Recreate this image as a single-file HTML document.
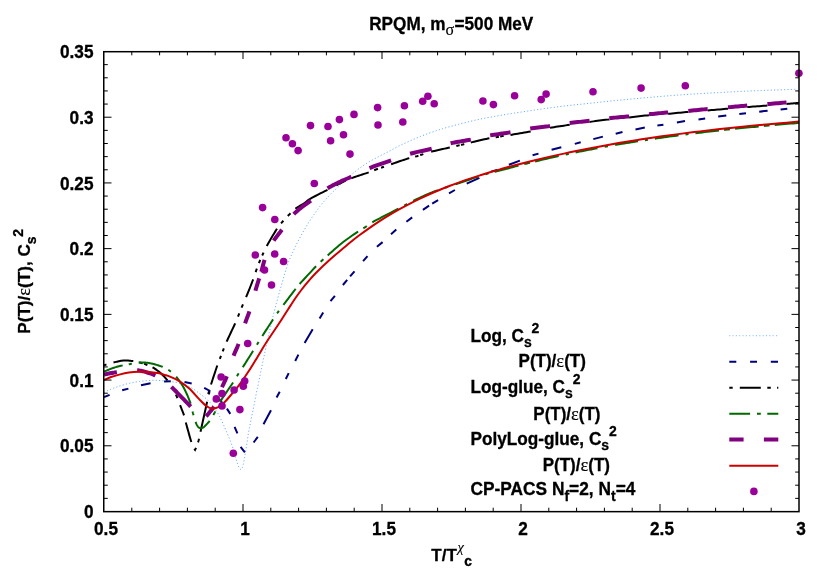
<!DOCTYPE html>
<html><head><meta charset="utf-8"><title>RPQM</title>
<style>
html,body{margin:0;padding:0;background:#fff;}
body{width:830px;height:581px;overflow:hidden;font-family:"Liberation Sans",sans-serif;}
svg{display:block;}
svg text{font-family:"Liberation Sans",sans-serif;font-weight:bold;font-size:17px;fill:#000;stroke:#000;stroke-width:0.3px;}
svg .sym{font-family:"Liberation Serif",serif;font-weight:normal;stroke-width:0.15px;}
</style></head><body>
<svg width="830" height="581" viewBox="0 0 830 581" style="will-change:transform">
<rect x="0" y="0" width="830" height="581" fill="#fff"/>
<path d="M104.00,392.40 L104.44,392.20 L105.02,391.93 L105.69,391.61 L106.45,391.26 L107.26,390.88 L108.12,390.49 L108.99,390.09 L109.86,389.70 L110.70,389.34 L111.50,389.00 L112.26,388.69 L113.01,388.38 L113.76,388.09 L114.51,387.79 L115.27,387.51 L116.04,387.22 L116.82,386.94 L117.62,386.66 L118.45,386.38 L119.30,386.10 L120.19,385.82 L121.10,385.53 L122.04,385.25 L123.01,384.96 L123.98,384.68 L124.97,384.41 L125.96,384.14 L126.94,383.88 L127.93,383.63 L128.90,383.40 L129.87,383.18 L130.84,382.97 L131.81,382.77 L132.79,382.58 L133.76,382.39 L134.74,382.22 L135.71,382.05 L136.68,381.89 L137.64,381.74 L138.60,381.60 L139.55,381.46 L140.49,381.34 L141.43,381.22 L142.36,381.10 L143.29,381.00 L144.23,380.90 L145.16,380.82 L146.10,380.74 L147.05,380.66 L148.00,380.60 L148.95,380.54 L149.90,380.49 L150.83,380.44 L151.78,380.40 L152.72,380.37 L153.69,380.35 L154.67,380.34 L155.68,380.34 L156.72,380.36 L157.80,380.40 L158.93,380.45 L160.12,380.53 L161.35,380.61 L162.61,380.71 L163.89,380.82 L165.16,380.95 L166.43,381.08 L167.66,381.21 L168.86,381.36 L170.00,381.50 L171.09,381.64 L172.15,381.79 L173.18,381.94 L174.19,382.10 L175.18,382.26 L176.16,382.44 L177.12,382.63 L178.08,382.83 L179.04,383.06 L180.00,383.30 L180.96,383.56 L181.90,383.81 L182.83,384.08 L183.76,384.36 L184.67,384.66 L185.59,384.98 L186.51,385.33 L187.43,385.72 L188.36,386.14 L189.30,386.60 L190.25,387.11 L191.20,387.66 L192.15,388.24 L193.11,388.86 L194.08,389.51 L195.04,390.18 L196.00,390.86 L196.97,391.57 L197.93,392.28 L198.90,393.00 L199.87,393.73 L200.87,394.47 L201.87,395.23 L202.87,396.00 L203.87,396.79 L204.86,397.59 L205.83,398.42 L206.79,399.26 L207.71,400.12 L208.60,401.00 L209.46,401.90 L210.29,402.81 L211.10,403.73 L211.89,404.68 L212.66,405.64 L213.41,406.62 L214.15,407.63 L214.88,408.66 L215.59,409.71 L216.30,410.80 L217.00,411.92 L217.68,413.08 L218.35,414.27 L219.00,415.49 L219.64,416.73 L220.27,417.98 L220.89,419.24 L221.50,420.50 L222.11,421.76 L222.70,423.00 L223.29,424.24 L223.86,425.50 L224.42,426.76 L224.98,428.03 L225.52,429.30 L226.06,430.56 L226.58,431.82 L227.10,433.07 L227.61,434.29 L228.10,435.50 L228.59,436.69 L229.06,437.86 L229.53,439.02 L229.99,440.17 L230.44,441.31 L230.87,442.44 L231.30,443.56 L231.71,444.68 L232.11,445.79 L232.50,446.90 L232.87,448.01 L233.22,449.11 L233.55,450.22 L233.86,451.31 L234.17,452.40 L234.47,453.48 L234.77,454.55 L235.07,455.61 L235.38,456.66 L235.70,457.70 L236.03,458.76 L236.37,459.85 L236.72,460.96 L237.07,462.06 L237.42,463.14 L237.76,464.18 L238.10,465.16 L238.42,466.05 L238.72,466.84 L239.00,467.50 L239.27,468.03 L239.53,468.45 L239.78,468.76 L240.03,469.00 L240.26,469.16 L240.47,469.28 L240.66,469.37 L240.83,469.44 L240.98,469.51 L241.10,469.60 L241.20,469.44 L241.33,469.26 L241.48,469.05 L241.65,468.82 L241.84,468.56 L242.03,468.24 L242.23,467.88 L242.43,467.46 L242.62,466.97 L242.80,466.40 L242.98,465.75 L243.15,465.03 L243.33,464.23 L243.51,463.38 L243.69,462.47 L243.87,461.52 L244.05,460.54 L244.23,459.54 L244.42,458.52 L244.60,457.50 L244.78,456.47 L244.97,455.41 L245.15,454.33 L245.34,453.22 L245.53,452.09 L245.71,450.93 L245.90,449.74 L246.10,448.52 L246.30,447.28 L246.50,446.00 L246.71,444.66 L246.93,443.25 L247.15,441.77 L247.37,440.26 L247.60,438.74 L247.83,437.22 L248.05,435.74 L248.27,434.31 L248.49,432.96 L248.70,431.70 L248.90,430.56 L249.08,429.53 L249.26,428.59 L249.43,427.70 L249.61,426.83 L249.78,425.97 L249.97,425.08 L250.16,424.14 L250.37,423.12 L250.60,422.00 L250.85,420.78 L251.11,419.50 L251.39,418.17 L251.68,416.79 L251.98,415.37 L252.28,413.92 L252.59,412.45 L252.90,410.97 L253.20,409.48 L253.50,408.00 L253.80,406.49 L254.10,404.92 L254.41,403.31 L254.72,401.69 L255.03,400.06 L255.33,398.44 L255.63,396.84 L255.93,395.30 L256.22,393.81 L256.50,392.40 L256.77,391.08 L257.03,389.85 L257.28,388.68 L257.52,387.55 L257.76,386.46 L258.00,385.37 L258.24,384.26 L258.49,383.13 L258.74,381.95 L259.00,380.70 L259.27,379.39 L259.53,378.05 L259.80,376.68 L260.07,375.29 L260.35,373.87 L260.63,372.43 L260.91,370.99 L261.20,369.53 L261.50,368.07 L261.80,366.60 L262.11,365.12 L262.43,363.63 L262.76,362.12 L263.09,360.59 L263.43,359.06 L263.76,357.53 L264.10,355.99 L264.44,354.45 L264.77,352.92 L265.10,351.40 L265.43,349.87 L265.75,348.31 L266.08,346.73 L266.41,345.15 L266.74,343.58 L267.06,342.03 L267.38,340.52 L267.69,339.05 L268.00,337.64 L268.30,336.30 L268.59,335.03 L268.89,333.80 L269.18,332.63 L269.46,331.49 L269.74,330.40 L270.02,329.34 L270.28,328.32 L270.53,327.32 L270.77,326.35 L271.00,325.40 L271.20,324.51 L271.38,323.70 L271.53,322.96 L271.68,322.25 L271.81,321.56 L271.95,320.86 L272.10,320.13 L272.27,319.34 L272.47,318.47 L272.70,317.50 L272.97,316.42 L273.26,315.26 L273.58,314.02 L273.91,312.73 L274.26,311.41 L274.61,310.06 L274.97,308.71 L275.32,307.37 L275.67,306.06 L276.00,304.80 L276.32,303.57 L276.64,302.34 L276.96,301.13 L277.28,299.92 L277.60,298.71 L277.92,297.52 L278.24,296.33 L278.56,295.14 L278.88,293.97 L279.20,292.80 L279.53,291.64 L279.86,290.49 L280.19,289.34 L280.52,288.21 L280.85,287.07 L281.18,285.95 L281.51,284.83 L281.84,283.72 L282.17,282.61 L282.50,281.50 L282.82,280.39 L283.15,279.28 L283.47,278.17 L283.80,277.07 L284.12,275.97 L284.44,274.88 L284.76,273.81 L285.07,272.75 L285.39,271.71 L285.70,270.70 L286.00,269.73 L286.28,268.80 L286.55,267.90 L286.81,267.02 L287.08,266.15 L287.36,265.28 L287.65,264.39 L287.97,263.47 L288.32,262.51 L288.70,261.50 L289.12,260.43 L289.58,259.32 L290.07,258.17 L290.57,257.00 L291.10,255.81 L291.64,254.60 L292.18,253.40 L292.73,252.21 L293.27,251.04 L293.80,249.90 L294.33,248.78 L294.86,247.66 L295.40,246.54 L295.94,245.43 L296.48,244.33 L297.03,243.24 L297.57,242.16 L298.12,241.09 L298.66,240.04 L299.20,239.00 L299.74,237.98 L300.27,236.98 L300.80,236.00 L301.33,235.04 L301.86,234.08 L302.40,233.13 L302.94,232.18 L303.48,231.23 L304.04,230.27 L304.60,229.30 L305.18,228.31 L305.78,227.30 L306.39,226.28 L307.01,225.25 L307.63,224.23 L308.25,223.22 L308.86,222.24 L309.46,221.28 L310.04,220.37 L310.60,219.50 L311.13,218.69 L311.65,217.92 L312.14,217.19 L312.63,216.50 L313.11,215.82 L313.58,215.17 L314.05,214.51 L314.52,213.86 L315.01,213.19 L315.50,212.50 L315.98,211.82 L316.44,211.16 L316.87,210.52 L317.31,209.89 L317.76,209.24 L318.23,208.58 L318.73,207.89 L319.29,207.15 L319.91,206.36 L320.60,205.50 L321.38,204.56 L322.23,203.55 L323.14,202.47 L324.11,201.35 L325.11,200.20 L326.13,199.04 L327.16,197.88 L328.20,196.75 L329.21,195.65 L330.20,194.60 L331.16,193.61 L332.12,192.64 L333.07,191.71 L334.02,190.79 L334.98,189.89 L335.94,188.98 L336.92,188.07 L337.92,187.14 L338.95,186.19 L340.00,185.20 L341.08,184.18 L342.19,183.13 L343.31,182.05 L344.45,180.97 L345.61,179.87 L346.79,178.77 L347.98,177.68 L349.17,176.60 L350.38,175.54 L351.60,174.50 L352.84,173.48 L354.10,172.45 L355.39,171.43 L356.69,170.41 L358.00,169.41 L359.31,168.42 L360.61,167.47 L361.90,166.54 L363.16,165.65 L364.40,164.80 L365.60,164.00 L366.77,163.25 L367.92,162.54 L369.06,161.86 L370.19,161.21 L371.32,160.57 L372.45,159.93 L373.61,159.30 L374.79,158.66 L376.00,158.00 L377.25,157.33 L378.54,156.66 L379.86,155.98 L381.20,155.31 L382.54,154.64 L383.88,153.98 L385.20,153.32 L386.51,152.67 L387.77,152.03 L389.00,151.40 L390.14,150.80 L391.18,150.22 L392.15,149.68 L393.10,149.14 L394.04,148.60 L395.03,148.05 L396.08,147.48 L397.24,146.87 L398.53,146.21 L400.00,145.50 L401.65,144.72 L403.47,143.87 L405.41,142.97 L407.46,142.03 L409.58,141.07 L411.75,140.11 L413.93,139.16 L416.10,138.23 L418.24,137.34 L420.30,136.50 L422.32,135.71 L424.33,134.93 L426.34,134.18 L428.35,133.45 L430.36,132.74 L432.36,132.04 L434.37,131.36 L436.38,130.69 L438.39,130.04 L440.40,129.40 L442.42,128.78 L444.44,128.17 L446.46,127.58 L448.48,127.01 L450.50,126.46 L452.52,125.91 L454.54,125.37 L456.56,124.84 L458.58,124.32 L460.60,123.80 L462.61,123.28 L464.62,122.77 L466.63,122.27 L468.64,121.77 L470.65,121.28 L472.66,120.80 L474.67,120.33 L476.68,119.88 L478.69,119.43 L480.70,119.00 L482.70,118.59 L484.67,118.19 L486.63,117.81 L488.59,117.45 L490.55,117.09 L492.53,116.73 L494.55,116.38 L496.61,116.03 L498.72,115.67 L500.90,115.30 L503.11,114.93 L505.32,114.56 L507.54,114.20 L509.80,113.84 L512.11,113.47 L514.48,113.10 L516.94,112.72 L519.50,112.33 L522.18,111.92 L525.00,111.50 L527.98,111.06 L531.12,110.59 L534.40,110.10 L537.78,109.60 L541.24,109.09 L544.75,108.59 L548.28,108.09 L551.80,107.61 L555.28,107.14 L558.70,106.70 L562.11,106.28 L565.59,105.87 L569.10,105.48 L572.62,105.09 L576.12,104.72 L579.59,104.36 L582.98,104.00 L586.28,103.66 L589.46,103.32 L592.50,103.00 L595.30,102.69 L597.83,102.41 L600.18,102.15 L602.42,101.90 L604.62,101.66 L606.87,101.41 L609.24,101.16 L611.79,100.89 L614.62,100.61 L617.80,100.30 L621.37,99.96 L625.29,99.59 L629.49,99.20 L633.87,98.80 L638.38,98.39 L642.92,97.98 L647.43,97.58 L651.83,97.19 L656.05,96.83 L660.00,96.50 L663.71,96.19 L667.28,95.91 L670.73,95.64 L674.09,95.38 L677.38,95.13 L680.62,94.89 L683.85,94.66 L687.09,94.44 L690.36,94.22 L693.70,94.00 L697.08,93.78 L700.46,93.58 L703.84,93.38 L707.22,93.18 L710.60,92.99 L713.98,92.81 L717.36,92.63 L720.74,92.45 L724.12,92.28 L727.50,92.10 L730.87,91.93 L734.22,91.75 L737.56,91.59 L740.91,91.42 L744.25,91.26 L747.60,91.10 L750.97,90.94 L754.35,90.79 L757.76,90.64 L761.20,90.50 L764.83,90.36 L768.74,90.22 L772.81,90.07 L776.94,89.93 L781.01,89.80 L784.91,89.67 L788.53,89.56 L791.76,89.46 L794.49,89.37 L796.60,89.30" fill="none" stroke="#5ea8ff" stroke-width="1" stroke-dasharray="1.1,2.25" stroke-dashoffset="0"/>
<path d="M104.00,397.20 L109.60,394.80 M122.20,390.30 L128.40,388.60 M141.00,385.20 L150.60,383.30 M164.10,381.50 L170.80,381.30 M184.50,382.00 L191.70,383.50 M218.50,398.50 L222.00,402.50 M226.90,408.60 L230.30,413.90 M234.60,426.80 L237.40,433.30 M240.60,446.90 L244.90,452.30 M253.60,442.50 L257.80,436.90 M263.50,424.20 L271.00,410.30 M276.60,397.40 L279.70,391.70 M285.80,379.00 L288.70,373.10 M295.20,361.00 L298.40,354.60 M304.60,342.90 L312.70,329.30 M319.60,318.50 L323.20,312.50 M330.50,301.10 L334.90,295.80 M342.90,285.00 L347.20,279.90 M350.10,276.30 L354.50,271.30 M363.10,261.10 L367.50,256.10 M376.90,246.70 L382.60,242.10 M391.00,234.30 L396.30,229.60 M406.40,221.70 L412.20,217.40 M422.90,209.90 L429.10,205.70 M432.20,203.60 L438.10,200.10 M449.00,193.30 L454.90,190.00 M466.70,183.70 L479.40,177.80 M491.20,171.60 L497.10,169.90 M508.90,164.80 L519.90,160.60 M532.60,155.30 L538.50,153.60 M551.60,149.80 L561.30,147.20 M574.80,143.90 L580.70,142.20 M593.30,139.10 L602.90,136.60 M615.70,133.70 L622.50,132.00 M635.50,129.50 L644.80,127.50 M657.40,125.60 L663.40,124.70 M676.90,122.50 L685.00,121.00 M698.50,119.60 L705.20,118.50 M718.20,116.60 L726.30,115.40 M739.30,114.10 L746.00,113.20 M759.20,111.70 L767.60,110.70 M780.60,109.50 L787.30,108.70 M204.2,387.8 L209.5,390.7 L209.0,394.4" fill="none" stroke="#00007a" stroke-width="2"/>
<path d="M104.00,365.40 L104.27,365.30 L104.60,365.18 L105.00,365.03 L105.45,364.86 L105.94,364.68 L106.45,364.50 M113.50,362.50 L114.26,362.32 L115.10,362.12 L115.99,361.90 L116.94,361.67 L117.92,361.44 L118.93,361.22 L119.95,361.01 L120.98,360.84 L122.00,360.70 L123.00,360.60 L124.01,360.55 L125.05,360.53 L126.11,360.53 L127.18,360.56 L128.25,360.62 L129.31,360.69 L130.36,360.78 L131.38,360.88 L132.36,360.99 L133.30,361.10 M152.50,367.30 L153.23,367.73 L153.97,368.17 L154.71,368.64 L155.46,369.13 L156.22,369.65 L156.98,370.19 L157.73,370.75 L158.49,371.34 L159.25,371.96 L160.00,372.60 L160.76,373.28 L161.54,374.01 L162.34,374.77 L163.13,375.56 L163.92,376.37 L164.69,377.19 L165.45,378.01 L166.17,378.83 L166.86,379.62 L167.50,380.40 M180.10,405.20 L180.48,406.17 L180.88,407.18 L181.30,408.23 L181.72,409.29 L182.15,410.35 L182.57,411.41 L182.97,412.44 L183.35,413.44 L183.69,414.40 L184.00,415.30 M185.80,422.50 L186.22,424.01 L186.72,425.84 L187.28,427.88 L187.89,430.08 L188.53,432.35 L189.16,434.61 L189.78,436.78 L190.35,438.79 L190.87,440.56 L191.30,442.00 M194.26,448.87 L194.44,449.10 L194.60,449.30 L194.76,449.48 L194.89,449.64 L195.01,449.78 L195.10,449.90 L195.20,449.68 L195.33,449.40 L195.48,449.07 L195.65,448.70 L195.84,448.30 L196.03,447.87 M200.50,431.70 L200.99,429.48 L201.60,426.74 L202.30,423.63 L203.05,420.27 L203.82,416.78 L204.60,413.28 L205.35,409.91 L206.03,406.79 L206.63,404.04 L207.10,401.80 M211.00,384.50 L211.49,382.99 L212.06,381.22 L212.70,379.25 L213.39,377.15 L214.11,374.99 L214.82,372.83 L215.52,370.74 L216.18,368.78 L216.78,367.01 L217.30,365.50 M226.60,341.70 L227.27,340.23 L228.06,338.52 L228.95,336.62 L229.91,334.59 L230.89,332.51 L231.88,330.42 L232.84,328.39 L233.73,326.49 L234.53,324.77 L235.20,323.30 M246.10,297.20 L246.69,295.74 L247.37,294.06 L248.12,292.22 L248.90,290.27 L249.70,288.26 L250.50,286.25 L251.27,284.29 L251.99,282.44 L252.64,280.76 L253.20,279.30 M266.70,246.10 L267.49,244.70 L268.43,243.05 L269.48,241.23 L270.60,239.30 L271.77,237.31 L272.94,235.33 L274.09,233.42 L275.17,231.63 L276.15,230.04 L277.00,228.70 M295.40,208.70 L296.18,208.14 L297.01,207.58 L297.89,207.03 L298.79,206.48 L299.71,205.94 L300.64,205.40 L301.55,204.87 L302.44,204.34 L303.30,203.82 L304.10,203.30 L304.81,202.81 L305.42,202.35 L305.97,201.91 L306.49,201.48 L307.01,201.05 L307.57,200.60 L308.20,200.13 L308.94,199.61 L309.83,199.04 L310.90,198.40 L312.19,197.68 L313.68,196.87 L315.34,196.00 L317.10,195.08 L318.94,194.14 L320.79,193.20 L322.62,192.28 L324.38,191.39 L326.02,190.56 L327.50,189.80 M351.40,178.20 L353.00,177.60 L354.74,176.98 L356.58,176.35 L358.48,175.73 L360.40,175.11 L362.29,174.50 L364.11,173.92 L365.81,173.37 L367.36,172.86 L368.70,172.40 M391.10,164.20 L392.58,163.69 L394.30,163.10 L396.19,162.46 L398.20,161.77 L400.26,161.07 L402.32,160.38 L404.32,159.72 L406.18,159.10 L407.87,158.55 L409.30,158.10 M431.20,151.70 L432.73,151.32 L434.49,150.91 L436.42,150.47 L438.46,150.01 L440.56,149.54 L442.65,149.08 L444.68,148.64 L446.58,148.22 L448.31,147.84 L449.80,147.50 M470.80,142.50 L472.29,142.15 L474.04,141.73 L475.96,141.27 L478.01,140.79 L480.12,140.29 L482.23,139.80 L484.27,139.33 L486.19,138.90 L487.92,138.51 L489.40,138.20 M510.50,134.90 L512.06,134.65 L513.82,134.36 L515.75,134.04 L517.80,133.71 L519.94,133.35 L522.14,132.98 L524.35,132.61 L526.54,132.23 L528.67,131.86 L530.70,131.50 M550.00,127.80 L551.95,127.47 L553.91,127.15 L555.87,126.85 L557.84,126.54 L559.81,126.25 L561.79,125.96 L563.76,125.67 L565.74,125.38 L567.72,125.09 L569.70,124.80 M589.60,121.90 L591.58,121.63 L593.55,121.37 L595.52,121.10 L597.49,120.85 L599.46,120.59 L601.42,120.34 L603.39,120.10 L605.36,119.86 L607.33,119.63 L609.30,119.40 M629.10,117.40 L631.09,117.18 L633.09,116.96 L635.09,116.73 L637.09,116.50 L639.09,116.26 L641.09,116.03 L643.09,115.81 L645.07,115.59 L647.04,115.39 L649.00,115.20 M668.10,113.80 L670.08,113.63 L672.08,113.45 L674.10,113.25 L676.14,113.06 L678.18,112.86 L680.22,112.66 L682.26,112.46 L684.29,112.26 L686.31,112.08 L688.30,111.90 M707.70,110.40 L709.70,110.24 L711.72,110.07 L713.76,109.90 L715.81,109.73 L717.86,109.56 L719.92,109.38 L721.96,109.21 L724.00,109.04 L726.01,108.87 L728.00,108.70 M747.20,107.10 L749.18,106.94 L751.19,106.78 L753.22,106.62 L755.26,106.46 L757.31,106.29 L759.35,106.13 L761.39,105.97 L763.41,105.81 L765.42,105.66 L767.40,105.50 M786.50,104.00 L788.07,103.86 L789.62,103.72 L791.13,103.58 L792.58,103.44 L793.94,103.31 L795.22,103.18 L796.38,103.06 L797.41,102.96 L798.29,102.87 L799.00,102.80 M139.17,362.35 L139.89,362.54 L140.57,362.73 L141.20,362.90 L141.76,363.05 L142.25,363.18 L142.67,363.30 M144.12,363.77 L144.52,363.92 L144.98,364.10 L145.50,364.30 L146.09,364.52 L146.72,364.76 L147.39,365.01 M175.89,394.65 L176.30,395.53 L176.70,396.40 L177.08,397.27 L177.44,398.13 M198.05,442.36 L198.23,441.75 L198.42,441.09 L198.60,440.40 L198.76,439.75 L198.90,439.20 L199.01,438.69 M208.32,394.13 L208.44,393.48 L208.60,392.70 L208.79,391.89 L208.96,391.18 M219.84,358.81 L220.11,358.14 L220.40,357.40 L220.70,356.62 L220.99,355.86 M222.70,351.34 L222.99,350.58 L223.30,349.80 L223.59,349.06 L223.85,348.38 M237.98,316.64 L238.27,315.91 L238.60,315.10 L238.96,314.22 L239.32,313.32 M241.55,307.72 L241.92,306.80 L242.30,305.90 L242.66,305.05 L243.00,304.28 M255.64,272.13 L255.90,271.35 L256.20,270.50 L256.52,269.60 L256.86,268.69 M258.92,263.21 L259.26,262.34 L259.60,261.50 L259.93,260.69 L260.26,259.91 M262.21,255.50 L262.55,254.76 L262.90,254.00 L263.23,253.27 L263.52,252.60 M281.04,223.40 L281.53,222.85 L282.10,222.20 L282.73,221.48 L283.41,220.72 M287.81,216.03 L288.52,215.30 L289.20,214.60 L289.85,213.94 L290.46,213.30 M336.27,185.30 L337.35,184.76 L338.50,184.20 L339.69,183.62 L340.89,183.02 M340.89,183.02 L342.09,182.42 L343.31,181.82 L344.56,181.21 L345.83,180.60 M374.18,170.23 L374.75,169.99 L375.35,169.75 L376.00,169.50 L376.67,169.26 L377.32,169.03 L377.94,168.82 M381.08,167.79 L381.77,167.55 L382.50,167.30 L383.23,167.04 L383.93,166.79 M415.14,156.62 L415.72,156.49 L416.29,156.36 L416.90,156.20 L417.49,156.03 L418.00,155.88 L418.46,155.74 M420.17,155.17 L420.67,155.00 L421.24,154.81 L421.90,154.60 L422.61,154.37 L423.34,154.12 M456.31,145.95 L456.95,145.79 L457.58,145.65 L458.20,145.50 L458.77,145.37 L459.24,145.27 L459.64,145.19 M460.96,144.92 L461.36,144.84 L461.83,144.73 L462.40,144.60 L463.02,144.45 L463.65,144.29 L464.29,144.13 M495.69,137.23 L496.30,137.16 L496.90,137.09 L497.50,137.00 L498.06,136.91 L498.52,136.82 L498.90,136.75 M500.22,136.46 L500.63,136.39 L501.11,136.30 L501.70,136.20 L502.34,136.10 L502.98,136.01 L503.64,135.91" fill="none" stroke="#000000" stroke-width="2"/>
<path d="M104.00,371.70 L104.53,371.47 L105.21,371.18 L106.02,370.83 L106.92,370.43 L107.89,370.01 L108.92,369.58 L109.97,369.15 L111.01,368.73 L112.03,368.34 L113.00,368.00 L113.95,367.69 L114.93,367.39 L115.92,367.10 L116.93,366.82 L117.94,366.56 L118.94,366.30 L119.92,366.06 L120.88,365.83 L121.81,365.61 L122.70,365.40 M138.60,362.50 L139.61,362.47 L140.66,362.45 L141.75,362.45 L142.87,362.48 L144.03,362.52 L145.20,362.60 L146.39,362.70 L147.59,362.83 L148.79,363.00 L150.00,363.20 L151.24,363.45 L152.55,363.75 L153.90,364.09 L155.26,364.46 L156.63,364.86 L157.98,365.27 L159.28,365.69 L160.51,366.11 L161.66,366.51 L162.70,366.90 M176.20,376.70 L176.93,377.60 L177.68,378.55 L178.46,379.56 L179.24,380.63 L180.04,381.74 L180.83,382.91 L181.62,384.12 L182.40,385.37 L183.16,386.67 L183.90,388.00 L184.64,389.42 L185.39,390.96 L186.15,392.58 L186.90,394.26 L187.64,395.96 L188.35,397.65 L189.02,399.30 L189.64,400.88 L190.21,402.36 L190.70,403.70 M195.60,421.90 L195.80,422.47 L195.98,422.97 L196.15,423.40 L196.31,423.78 L196.46,424.11 L196.61,424.42 L196.75,424.70 L196.90,424.96 L197.04,425.23 L197.20,425.50 L197.36,425.77 L197.52,426.02 L197.67,426.26 L197.83,426.48 L197.99,426.68 L198.15,426.87 L198.31,427.05 L198.47,427.21 L198.63,427.36 L198.80,427.50 L198.97,427.63 L199.15,427.74 L199.32,427.84 L199.50,427.93 L199.68,428.00 L199.86,428.06 L200.05,428.11 L200.23,428.15 L200.42,428.18 L200.60,428.20 L200.79,428.21 L200.98,428.20 L201.17,428.19 L201.36,428.16 L201.55,428.12 L201.74,428.07 L201.93,428.01 L202.12,427.95 L202.31,427.88 L202.50,427.80 L202.67,427.73 L202.81,427.68 L202.94,427.64 L203.06,427.59 L203.19,427.53 L203.33,427.44 L203.51,427.32 L203.72,427.14 L203.98,426.91 L204.30,426.60 L204.69,426.22 L205.15,425.78 L205.65,425.28 L206.20,424.74 L206.77,424.15 L207.36,423.53 L207.94,422.89 L208.52,422.23 L209.08,421.57 L209.60,420.90 M220.10,401.80 L221.15,400.13 L222.37,398.25 L223.73,396.22 L225.18,394.08 L226.67,391.91 L228.15,389.76 L229.58,387.68 L230.92,385.74 L232.10,384.00 L233.10,382.50 M242.80,367.20 L243.64,365.88 L244.61,364.36 L245.68,362.68 L246.81,360.89 L247.97,359.05 L249.13,357.21 L250.25,355.42 L251.31,353.74 L252.27,352.22 L253.10,350.90 M262.30,336.00 L263.15,334.67 L264.15,333.13 L265.26,331.41 L266.45,329.58 L267.68,327.70 L268.90,325.82 L270.10,323.99 L271.22,322.27 L272.23,320.73 L273.10,319.40 M283.40,304.90 L284.39,303.60 L285.55,302.07 L286.85,300.37 L288.23,298.56 L289.64,296.70 L291.05,294.85 L292.41,293.08 L293.67,291.44 L294.78,289.99 L295.70,288.80 M299.60,284.00 L300.79,282.69 L302.26,281.08 L303.96,279.23 L305.80,277.24 L307.72,275.16 L309.66,273.07 L311.53,271.06 L313.28,269.19 L314.82,267.55 L316.10,266.20 M327.70,255.40 L328.77,254.45 L329.98,253.37 L331.30,252.19 L332.71,250.92 L334.20,249.60 L335.74,248.25 L337.31,246.88 L338.89,245.54 L340.46,244.24 L342.00,243.00 L343.58,241.78 L345.25,240.53 L346.98,239.26 L348.74,237.99 L350.50,236.74 L352.22,235.54 L353.87,234.39 L355.43,233.32 L356.85,232.35 L358.10,231.50 M372.30,222.30 L374.22,221.24 L376.60,219.97 L379.32,218.53 L382.27,216.98 L385.33,215.39 L388.39,213.80 L391.35,212.27 L394.07,210.85 L396.46,209.61 L398.40,208.60 M413.20,200.80 L414.54,200.17 L416.07,199.45 L417.75,198.67 L419.54,197.84 L421.41,196.98 L423.31,196.12 L425.20,195.28 L427.06,194.46 L428.84,193.69 L430.50,193.00 L432.06,192.37 L433.57,191.78 L435.04,191.23 L436.48,190.70 L437.89,190.20 M455.48,184.29 L456.99,183.80 L458.50,183.30 L460.00,182.80 L461.50,182.29 L463.00,181.78 L464.50,181.26 L466.00,180.74 L467.50,180.21 L469.00,179.69 L470.50,179.18 L472.00,178.66 L473.50,178.16 L475.00,177.66 L476.50,177.17 L478.00,176.68 M494.50,171.78 L496.00,171.41 L497.50,171.05 L499.00,170.70 L500.50,170.34 L502.00,169.98 L503.50,169.61 L505.00,169.23 L506.50,168.84 L508.00,168.44 L509.50,168.04 L511.00,167.63 L512.49,167.22 L513.99,166.82 L515.49,166.41 L516.99,166.00 L518.50,165.60 M535.10,161.44 L537.15,160.95 L539.38,160.43 L541.77,159.87 L544.25,159.30 L546.79,158.71 L549.33,158.13 L551.84,157.56 L554.27,157.01 L556.57,156.49 L558.70,156.02 M575.60,152.44 L577.61,152.04 L579.73,151.62 L581.93,151.18 L584.20,150.74 L586.50,150.29 L588.80,149.84 L591.08,149.40 L593.31,148.97 L595.46,148.56 L597.50,148.18 M615.20,144.99 L617.30,144.63 L619.53,144.25 L621.85,143.86 L624.24,143.46 L626.65,143.06 L629.06,142.66 L631.43,142.27 L633.74,141.90 L635.94,141.54 L638.00,141.21 M654.90,138.65 L657.03,138.34 L659.32,138.02 L661.73,137.68 L664.22,137.33 L666.76,136.97 L669.29,136.62 L671.78,136.28 L674.19,135.95 L676.48,135.64 L678.60,135.35 M695.40,133.23 L697.52,132.97 L699.80,132.70 L702.22,132.42 L704.71,132.13 L707.24,131.83 L709.77,131.54 L712.26,131.25 L714.65,130.98 L716.91,130.72 L719.00,130.49 M735.10,128.79 L737.19,128.58 L739.46,128.35 L741.87,128.11 L744.36,127.86 L746.91,127.62 L749.45,127.37 L751.94,127.12 L754.35,126.89 L756.61,126.67 L758.70,126.47 M774.70,125.00 L776.90,124.81 L779.42,124.59 L782.15,124.35 L784.99,124.10 L787.85,123.85 L790.63,123.61 L793.23,123.39 L795.56,123.19 L797.52,123.02 L799.00,122.89 M128.77,364.27 L129.52,364.14 L130.30,364.00 L131.09,363.84 L131.87,363.67 M168.33,369.80 L168.95,370.23 L169.60,370.70 L170.27,371.19 L170.92,371.67 M192.59,411.54 L192.78,412.41 L193.00,413.30 L193.25,414.22 L193.52,415.16 M213.30,415.10 L213.79,414.23 L214.30,413.30 L214.80,412.34 L215.27,411.37 M236.97,376.15 L237.36,375.51 L237.80,374.80 L238.26,374.08 L238.70,373.41 M256.96,344.66 L257.36,344.01 L257.80,343.30 L258.23,342.60 L258.61,341.97 M277.08,313.40 L277.52,312.78 L278.00,312.10 L278.49,311.42 L278.94,310.80 M320.58,261.78 L321.00,261.41 L321.47,260.99 L322.00,260.50 L322.54,260.00 L323.02,259.56 L323.45,259.16 M363.35,228.31 L363.92,227.98 L364.53,227.62 L365.20,227.20 L365.82,226.77 L366.32,226.40 L366.73,226.05 M404.17,205.56 L404.62,205.32 L405.14,205.05 L405.80,204.70 L406.50,204.33 L407.12,203.98 M445.00,187.75 L446.48,187.24 L447.97,186.74 M485.50,174.28 L487.00,173.83 L488.50,173.39 M524.25,164.11 L525.62,163.76 L527.01,163.41 L528.44,163.05 L529.94,162.68 M565.70,154.49 L567.26,154.16 L568.80,153.83 M604.64,146.85 L606.29,146.55 L607.95,146.25 M644.86,140.14 L646.39,139.90 L647.93,139.67 M685.49,134.45 L687.01,134.26 L688.52,134.07 M724.14,129.92 L725.62,129.76 L727.05,129.61 L728.48,129.46 L729.95,129.31 M763.80,125.99 L765.25,125.85 L766.66,125.73 L768.07,125.60 L769.53,125.46" fill="none" stroke="#006a00" stroke-width="2"/>
<path d="M104.00,374.60 L104.39,374.51 L104.89,374.40 L105.48,374.27 L106.14,374.12 L106.85,373.96 L107.60,373.80 L108.35,373.63 L109.10,373.48 L109.82,373.33 L110.50,373.20 L111.13,373.09 L111.73,372.99 L112.31,372.90 L112.89,372.81 L113.48,372.72 L114.08,372.64 L114.71,372.55 L115.38,372.44 L116.11,372.33 L116.90,372.20 M137.10,370.20 L138.06,370.31 L139.00,370.44 L139.93,370.60 L140.85,370.78 L141.76,370.98 L142.67,371.20 L143.58,371.44 L144.48,371.68 L145.39,371.94 L146.30,372.20 L147.22,372.47 L148.14,372.75 L149.07,373.04 L150.00,373.34 L150.92,373.66 L151.84,373.99 L152.75,374.34 L153.65,374.70 L154.53,375.09 L155.40,375.50 M171.40,386.90 L172.29,387.73 L173.21,388.62 L174.15,389.55 L175.11,390.52 L176.09,391.52 L177.07,392.54 L178.06,393.56 L179.05,394.59 L180.03,395.60 L181.00,396.60 L181.99,397.61 L183.00,398.65 L184.04,399.71 L185.08,400.78 L186.12,401.84 L187.13,402.88 L188.11,403.89 L189.04,404.86 L189.91,405.76 L190.70,406.60 M206.20,416.30 L206.54,415.93 L206.89,415.53 L207.26,415.10 L207.64,414.66 L208.02,414.21 L208.42,413.74 L208.82,413.26 L209.22,412.77 L209.61,412.29 L210.00,411.80 L210.39,411.33 L210.77,410.87 L211.16,410.41 L211.54,409.96 L211.93,409.49 L212.32,408.99 L212.71,408.47 L213.11,407.90 L213.50,407.28 L213.90,406.60 M222.00,387.30 L222.44,386.28 L222.88,385.30 L223.32,384.36 L223.77,383.41 L224.22,382.44 L224.70,381.42 L225.19,380.32 L225.70,379.12 L226.24,377.79 L226.80,376.30 M233.60,355.80 L234.16,354.30 L234.67,353.01 L235.16,351.87 L235.62,350.84 L236.06,349.86 L236.51,348.87 L236.96,347.84 L237.44,346.70 L237.95,345.40 L238.50,343.90 M245.10,323.30 L245.62,321.79 L246.08,320.49 L246.51,319.34 L246.90,318.29 L247.29,317.30 L247.67,316.31 L248.06,315.26 L248.47,314.11 L248.91,312.81 L249.40,311.30 M255.40,290.70 L255.88,289.10 L256.33,287.60 L256.76,286.19 L257.16,284.87 L257.54,283.62 L257.91,282.44 L258.25,281.33 L258.58,280.27 L258.90,279.26 L259.20,278.30 M261.30,271.80 L261.58,270.82 L261.87,269.72 L262.17,268.55 L262.48,267.31 L262.81,266.04 L263.14,264.74 L263.49,263.45 L263.85,262.18 L264.22,260.96 L264.60,259.80 M273.70,240.70 L274.39,239.68 L275.16,238.62 L275.98,237.51 L276.85,236.38 L277.74,235.23 L278.64,234.09 L279.52,232.96 L280.37,231.86 L281.17,230.80 L281.90,229.80 M293.80,214.10 L294.54,213.38 L295.31,212.66 L296.10,211.94 L296.91,211.22 L297.74,210.50 L298.58,209.78 L299.43,209.08 L300.28,208.37 L301.14,207.68 L302.00,207.00 L302.87,206.33 L303.75,205.68 L304.64,205.03 L305.55,204.40 L306.46,203.77 L307.36,203.14 L308.27,202.51 L309.16,201.88 L310.04,201.24 L310.90,200.60 M327.50,188.30 L328.56,187.69 L329.68,187.06 L330.85,186.42 L332.05,185.78 L333.29,185.12 L334.54,184.48 L335.80,183.84 L337.05,183.21 L338.29,182.59 L339.50,182.00 L340.67,181.44 L341.79,180.93 L342.88,180.44 L343.97,179.97 L345.07,179.49 L346.20,179.01 L347.38,178.50 L348.62,177.96 L349.96,177.36 L351.40,176.70 M369.50,168.10 L371.53,167.29 L373.64,166.48 L375.80,165.69 L378.01,164.90 L380.24,164.12 L382.48,163.36 L384.70,162.60 L386.89,161.86 L389.03,161.12 L391.10,160.40 M410.10,153.80 L412.17,153.23 L414.30,152.69 L416.47,152.17 L418.68,151.67 L420.91,151.18 L423.13,150.69 L425.34,150.20 L427.51,149.72 L429.64,149.22 L431.70,148.70 M450.60,143.30 L452.57,142.86 L454.57,142.46 L456.59,142.08 L458.62,141.72 L460.67,141.38 L462.72,141.03 L464.76,140.69 L466.79,140.34 L468.81,139.98 L470.80,139.60 M490.20,135.40 L492.20,135.05 L494.21,134.72 L496.24,134.41 L498.28,134.11 L500.33,133.82 L502.38,133.53 L504.43,133.24 L506.46,132.94 L508.49,132.63 L510.50,132.30 M530.20,128.60 L532.18,128.30 L534.16,128.03 L536.14,127.78 L538.12,127.54 L540.10,127.31 L542.08,127.08 L544.06,126.85 L546.04,126.61 L548.02,126.36 L550.00,126.10 M569.70,123.10 L571.68,122.84 L573.67,122.58 L575.66,122.34 L577.66,122.10 L579.65,121.87 L581.64,121.64 L583.64,121.41 L585.63,121.18 L587.62,120.94 L589.60,120.70 M609.30,118.20 L611.28,117.99 L613.25,117.80 L615.23,117.62 L617.21,117.44 L619.19,117.27 L621.17,117.11 L623.15,116.94 L625.13,116.77 L627.12,116.59 L629.10,116.40 M649.00,114.30 L650.94,114.10 L652.85,113.90 L654.75,113.70 L656.64,113.51 L658.53,113.31 L660.42,113.12 L662.31,112.93 L664.22,112.75 L666.15,112.57 L668.10,112.40 M688.30,110.90 L690.27,110.73 L692.22,110.54 L694.15,110.35 L696.07,110.16 L697.99,109.96 L699.91,109.76 L701.84,109.57 L703.78,109.37 L705.73,109.18 L707.70,109.00 M728.00,107.30 L729.96,107.13 L731.89,106.96 L733.81,106.78 L735.71,106.61 L737.61,106.44 L739.50,106.27 L741.40,106.10 L743.31,105.93 L745.24,105.76 L747.20,105.60 M767.40,104.10 L769.44,103.93 L771.60,103.75 L773.81,103.55 L776.04,103.35 L778.21,103.16 L780.29,102.97 L782.21,102.79 L783.92,102.63 L785.37,102.50 L786.50,102.40" fill="none" stroke="#800080" stroke-width="4.0"/>
<path d="M104.00,379.90 C105.17,379.42 108.45,377.88 111.00,377.00 C113.55,376.12 116.32,375.33 119.30,374.60 C122.28,373.87 125.68,373.08 128.90,372.60 C132.12,372.12 135.42,371.82 138.60,371.70 C141.78,371.58 144.80,371.67 148.00,371.90 C151.20,372.13 154.97,372.58 157.80,373.10 C160.63,373.62 162.97,374.40 165.00,375.00 C167.03,375.60 167.57,375.65 170.00,376.70 C172.43,377.75 176.38,379.32 179.60,381.30 C182.82,383.28 186.08,385.67 189.30,388.60 C192.52,391.53 196.02,395.95 198.90,398.90 C201.78,401.85 204.35,404.68 206.60,406.30 C208.85,407.92 210.47,408.47 212.40,408.60 C214.33,408.73 216.27,408.07 218.20,407.10 C220.13,406.13 221.75,404.97 224.00,402.80 C226.25,400.63 229.03,397.27 231.70,394.10 C234.37,390.93 237.15,387.65 240.00,383.80 C242.85,379.95 245.88,375.48 248.80,371.00 C251.72,366.52 254.62,361.60 257.50,356.90 C260.38,352.20 263.22,347.32 266.10,342.80 C268.98,338.28 272.27,333.60 274.80,329.80 C277.33,326.00 279.10,323.38 281.30,320.00 C283.50,316.62 285.63,313.17 288.00,309.50 C290.37,305.83 293.22,301.33 295.50,298.00 C297.78,294.67 299.53,292.30 301.70,289.50 C303.87,286.70 306.10,284.00 308.50,281.20 C310.90,278.40 312.42,276.40 316.10,272.70 C319.78,269.00 325.77,263.33 330.60,259.00 C335.43,254.67 341.53,249.71 345.10,246.70 C348.67,243.69 349.52,242.92 352.00,240.93 C354.48,238.94 357.00,237.02 360.00,234.79 C363.00,232.56 366.67,229.89 370.00,227.57 C373.33,225.25 376.67,223.02 380.00,220.86 C383.33,218.71 386.67,216.64 390.00,214.64 C393.33,212.64 396.67,210.72 400.00,208.87 C403.33,207.02 406.67,205.25 410.00,203.54 C413.33,201.83 416.67,200.19 420.00,198.60 C423.33,197.01 426.67,195.49 430.00,194.02 C433.33,192.55 436.67,191.14 440.00,189.77 C443.33,188.40 446.67,187.08 450.00,185.80 C453.33,184.52 456.67,183.30 460.00,182.10 C463.33,180.90 466.67,179.75 470.00,178.62 C473.33,177.50 476.67,176.41 480.00,175.35 C483.33,174.29 486.67,173.26 490.00,172.26 C493.33,171.26 496.67,170.29 500.00,169.34 C503.33,168.39 506.67,167.47 510.00,166.56 C513.33,165.66 515.83,164.98 520.00,163.91 C524.17,162.84 530.00,161.37 535.00,160.16 C540.00,158.95 545.00,157.78 550.00,156.65 C555.00,155.52 560.00,154.43 565.00,153.36 C570.00,152.30 574.17,151.42 580.00,150.26 C585.83,149.10 593.33,147.64 600.00,146.41 C606.67,145.18 613.33,144.00 620.00,142.86 C626.67,141.73 633.33,140.64 640.00,139.60 C646.67,138.56 653.33,137.56 660.00,136.61 C666.67,135.66 673.33,134.74 680.00,133.87 C686.67,133.00 693.33,132.17 700.00,131.37 C706.67,130.57 713.33,129.81 720.00,129.08 C726.67,128.35 733.33,127.66 740.00,126.99 C746.67,126.32 753.33,125.68 760.00,125.05 C766.67,124.42 773.48,123.81 780.00,123.23 C786.52,122.65 795.92,121.86 799.10,121.58" fill="none" stroke="#cc0000" stroke-width="2"/>
<circle cx="233.3" cy="453.2" r="3.8" fill="#990099"/>
<circle cx="216.3" cy="398.9" r="3.8" fill="#990099"/>
<circle cx="222.0" cy="393.6" r="3.8" fill="#990099"/>
<circle cx="222.0" cy="405.9" r="3.8" fill="#990099"/>
<circle cx="234.1" cy="390.0" r="3.8" fill="#990099"/>
<circle cx="239.9" cy="409.6" r="3.8" fill="#990099"/>
<circle cx="243.3" cy="386.3" r="3.8" fill="#990099"/>
<circle cx="244.7" cy="381.1" r="3.8" fill="#990099"/>
<circle cx="247.7" cy="343.5" r="3.8" fill="#990099"/>
<circle cx="221.1" cy="377.0" r="3.8" fill="#990099"/>
<circle cx="271.5" cy="285.0" r="3.8" fill="#990099"/>
<circle cx="255.3" cy="255.0" r="3.8" fill="#990099"/>
<circle cx="264.5" cy="270.0" r="3.8" fill="#990099"/>
<circle cx="274.7" cy="254.0" r="3.8" fill="#990099"/>
<circle cx="283.6" cy="261.5" r="3.8" fill="#990099"/>
<circle cx="262.6" cy="207.6" r="3.8" fill="#990099"/>
<circle cx="274.8" cy="219.5" r="3.8" fill="#990099"/>
<circle cx="314.3" cy="183.5" r="3.8" fill="#990099"/>
<circle cx="286.0" cy="137.7" r="3.8" fill="#990099"/>
<circle cx="292.4" cy="143.7" r="3.8" fill="#990099"/>
<circle cx="298.1" cy="150.6" r="3.8" fill="#990099"/>
<circle cx="310.5" cy="125.6" r="3.8" fill="#990099"/>
<circle cx="328.0" cy="126.5" r="3.8" fill="#990099"/>
<circle cx="330.6" cy="140.8" r="3.8" fill="#990099"/>
<circle cx="339.4" cy="119.6" r="3.8" fill="#990099"/>
<circle cx="343.5" cy="134.8" r="3.8" fill="#990099"/>
<circle cx="350.0" cy="154.1" r="3.8" fill="#990099"/>
<circle cx="354.0" cy="114.4" r="3.8" fill="#990099"/>
<circle cx="377.6" cy="107.6" r="3.8" fill="#990099"/>
<circle cx="378.0" cy="125.0" r="3.8" fill="#990099"/>
<circle cx="404.4" cy="105.7" r="3.8" fill="#990099"/>
<circle cx="402.8" cy="122.0" r="3.8" fill="#990099"/>
<circle cx="422.7" cy="101.2" r="3.8" fill="#990099"/>
<circle cx="427.9" cy="96.2" r="3.8" fill="#990099"/>
<circle cx="434.2" cy="103.8" r="3.8" fill="#990099"/>
<circle cx="482.9" cy="101.0" r="3.8" fill="#990099"/>
<circle cx="493.4" cy="104.6" r="3.8" fill="#990099"/>
<circle cx="514.6" cy="95.8" r="3.8" fill="#990099"/>
<circle cx="541.2" cy="99.6" r="3.8" fill="#990099"/>
<circle cx="546.1" cy="94.1" r="3.8" fill="#990099"/>
<circle cx="593.0" cy="91.8" r="3.8" fill="#990099"/>
<circle cx="641.1" cy="88.1" r="3.8" fill="#990099"/>
<circle cx="685.3" cy="85.8" r="3.8" fill="#990099"/>
<circle cx="798.9" cy="73.3" r="3.8" fill="#990099"/>
<circle cx="753.9" cy="491.4" r="3.8" fill="#990099"/>
<path d="M729.10,335.7 H778.30" fill="none" stroke="#86bcff" stroke-width="1" stroke-dasharray="1.1,2.25"/>
<path d="M729.30,361.80 H736.30 M750.10,361.80 H757.00 M770.80,361.80 H778.00" fill="none" stroke="#00007a" stroke-width="2"/>
<path d="M729.30,387.80 H732.70 M739.80,387.80 H760.80 M767.30,387.80 H770.80 M777.10,387.80 H778.30" fill="none" stroke="#000000" stroke-width="2"/>
<path d="M729.30,413.80 H750.10 M757.00,413.80 H760.80 M767.30,413.80 H778.30" fill="none" stroke="#006a00" stroke-width="2"/>
<path d="M729.30,439.60 H743.60 M763.90,439.60 H778.30" fill="none" stroke="#800080" stroke-width="4.0"/>
<path d="M729.30,465.80 H778.30" fill="none" stroke="#cc0000" stroke-width="2"/>
<path d="M131.80,511.50 v-3.80 M131.80,51.50 v3.80 M159.60,511.50 v-3.80 M159.60,51.50 v3.80 M187.40,511.50 v-3.80 M187.40,51.50 v3.80 M215.20,511.50 v-3.80 M215.20,51.50 v3.80 M243.00,511.50 v-7.50 M243.00,51.50 v7.50 M270.80,511.50 v-3.80 M270.80,51.50 v3.80 M298.60,511.50 v-3.80 M298.60,51.50 v3.80 M326.40,511.50 v-3.80 M326.40,51.50 v3.80 M354.20,511.50 v-3.80 M354.20,51.50 v3.80 M382.00,511.50 v-7.50 M382.00,51.50 v7.50 M409.80,511.50 v-3.80 M409.80,51.50 v3.80 M437.60,511.50 v-3.80 M437.60,51.50 v3.80 M465.40,511.50 v-3.80 M465.40,51.50 v3.80 M493.20,511.50 v-3.80 M493.20,51.50 v3.80 M521.00,511.50 v-7.50 M521.00,51.50 v7.50 M548.80,511.50 v-3.80 M548.80,51.50 v3.80 M576.60,511.50 v-3.80 M576.60,51.50 v3.80 M604.40,511.50 v-3.80 M604.40,51.50 v3.80 M632.20,511.50 v-3.80 M632.20,51.50 v3.80 M660.00,511.50 v-7.50 M660.00,51.50 v7.50 M687.80,511.50 v-3.80 M687.80,51.50 v3.80 M715.60,511.50 v-3.80 M715.60,51.50 v3.80 M743.40,511.50 v-3.80 M743.40,51.50 v3.80 M771.20,511.50 v-3.80 M771.20,51.50 v3.80 M104.00,498.36 h3.80 M799.00,498.36 h-3.80 M104.00,485.21 h3.80 M799.00,485.21 h-3.80 M104.00,472.07 h3.80 M799.00,472.07 h-3.80 M104.00,458.93 h3.80 M799.00,458.93 h-3.80 M104.00,445.79 h7.50 M799.00,445.79 h-7.50 M104.00,432.64 h3.80 M799.00,432.64 h-3.80 M104.00,419.50 h3.80 M799.00,419.50 h-3.80 M104.00,406.36 h3.80 M799.00,406.36 h-3.80 M104.00,393.21 h3.80 M799.00,393.21 h-3.80 M104.00,380.07 h7.50 M799.00,380.07 h-7.50 M104.00,366.93 h3.80 M799.00,366.93 h-3.80 M104.00,353.79 h3.80 M799.00,353.79 h-3.80 M104.00,340.64 h3.80 M799.00,340.64 h-3.80 M104.00,327.50 h3.80 M799.00,327.50 h-3.80 M104.00,314.36 h7.50 M799.00,314.36 h-7.50 M104.00,301.21 h3.80 M799.00,301.21 h-3.80 M104.00,288.07 h3.80 M799.00,288.07 h-3.80 M104.00,274.93 h3.80 M799.00,274.93 h-3.80 M104.00,261.79 h3.80 M799.00,261.79 h-3.80 M104.00,248.64 h7.50 M799.00,248.64 h-7.50 M104.00,235.50 h3.80 M799.00,235.50 h-3.80 M104.00,222.36 h3.80 M799.00,222.36 h-3.80 M104.00,209.21 h3.80 M799.00,209.21 h-3.80 M104.00,196.07 h3.80 M799.00,196.07 h-3.80 M104.00,182.93 h7.50 M799.00,182.93 h-7.50 M104.00,169.79 h3.80 M799.00,169.79 h-3.80 M104.00,156.64 h3.80 M799.00,156.64 h-3.80 M104.00,143.50 h3.80 M799.00,143.50 h-3.80 M104.00,130.36 h3.80 M799.00,130.36 h-3.80 M104.00,117.21 h7.50 M799.00,117.21 h-7.50 M104.00,104.07 h3.80 M799.00,104.07 h-3.80 M104.00,90.93 h3.80 M799.00,90.93 h-3.80 M104.00,77.79 h3.80 M799.00,77.79 h-3.80 M104.00,64.64 h3.80 M799.00,64.64 h-3.80" fill="none" stroke="#000" stroke-width="1"/>
<rect x="103.75" y="51.70" width="695.25" height="459.95" fill="none" stroke="#000" stroke-width="1.5"/>
<g transform="translate(93.50,518.10) scale(1.012,1.085)"><text x="0" y="0" text-anchor="end">0</text></g>
<g transform="translate(93.50,452.39) scale(1.012,1.085)"><text x="0" y="0" text-anchor="end">0.05</text></g>
<g transform="translate(93.50,386.67) scale(1.012,1.085)"><text x="0" y="0" text-anchor="end">0.1</text></g>
<g transform="translate(93.50,320.96) scale(1.012,1.085)"><text x="0" y="0" text-anchor="end">0.15</text></g>
<g transform="translate(93.50,255.24) scale(1.012,1.085)"><text x="0" y="0" text-anchor="end">0.2</text></g>
<g transform="translate(93.50,189.53) scale(1.012,1.085)"><text x="0" y="0" text-anchor="end">0.25</text></g>
<g transform="translate(93.50,123.81) scale(1.012,1.085)"><text x="0" y="0" text-anchor="end">0.3</text></g>
<g transform="translate(93.50,58.10) scale(1.012,1.085)"><text x="0" y="0" text-anchor="end">0.35</text></g>
<g transform="translate(106.00,534.50) scale(1.012,1.085)"><text x="0" y="0" text-anchor="middle">0.5</text></g>
<g transform="translate(245.00,534.50) scale(1.012,1.085)"><text x="0" y="0" text-anchor="middle">1</text></g>
<g transform="translate(384.00,534.50) scale(1.012,1.085)"><text x="0" y="0" text-anchor="middle">1.5</text></g>
<g transform="translate(523.00,534.50) scale(1.012,1.085)"><text x="0" y="0" text-anchor="middle">2</text></g>
<g transform="translate(662.00,534.50) scale(1.012,1.085)"><text x="0" y="0" text-anchor="middle">2.5</text></g>
<g transform="translate(801.00,534.50) scale(1.012,1.085)"><text x="0" y="0" text-anchor="middle">3</text></g>
<g transform="translate(369.20,29.70) scale(1.0100,1.045)"><text x="0" y="0">RPQM, m<tspan class="sym" font-size="16" dy="5.26" dx="0.1">σ</tspan><tspan dy="-5.26" dx="0.2">=500 MeV</tspan></text></g>
<g transform="translate(29.60,333.70) rotate(-90) scale(1.0060,1.000)"><text x="0" y="0">P(T)/<tspan class="sym" font-size="18.5">ε</tspan>(T), C<tspan font-size="13.8" dy="5.9">s</tspan><tspan font-size="13.8" dy="-12.9" dx="-0.2">2</tspan></text></g>
<g transform="translate(431.30,560.70) scale(1.0000,1.000)"><text x="0" y="0">T/T<tspan class="sym" font-style="italic" font-size="14.5" dy="-8.4" dx="0.8">χ</tspan><tspan font-size="13.8" dy="13.6" dx="0.3">c</tspan></text></g>
<g transform="translate(470.50,341.60) scale(1.0120,1.045)"><text x="0" y="0">Log, C<tspan font-size="13.8" dy="4.78">s</tspan><tspan font-size="13.8" dy="-13.40" dx="-0.1">2</tspan></text></g>
<g transform="translate(518.60,367.30) scale(1.0000,1.045)"><text x="0" y="0">P(T)/<tspan class="sym" font-size="18.5">ε</tspan>(T)</text></g>
<g transform="translate(470.50,393.30) scale(1.0120,1.045)"><text x="0" y="0">Log-glue, C<tspan font-size="13.8" dy="4.78">s</tspan><tspan font-size="13.8" dy="-13.40" dx="-0.1">2</tspan></text></g>
<g transform="translate(533.30,419.70) scale(1.0000,1.045)"><text x="0" y="0">P(T)/<tspan class="sym" font-size="18.5">ε</tspan>(T)</text></g>
<g transform="translate(470.50,444.70) scale(1.0120,1.045)"><text x="0" y="0">PolyLog-glue, C<tspan font-size="13.8" dy="4.78">s</tspan><tspan font-size="13.8" dy="-13.40" dx="-0.1">2</tspan></text></g>
<g transform="translate(542.70,470.80) scale(1.0000,1.045)"><text x="0" y="0">P(T)/<tspan class="sym" font-size="18.5">ε</tspan>(T)</text></g>
<g transform="translate(470.50,494.70) scale(1.0190,1.045)"><text x="0" y="0">CP-PACS N<tspan font-size="13.8" dy="5.74">f</tspan><tspan dy="-5.74">=2, N</tspan><tspan font-size="13.8" dy="5.74">t</tspan><tspan dy="-5.74">=4</tspan></text></g>
</svg>
</body></html>
